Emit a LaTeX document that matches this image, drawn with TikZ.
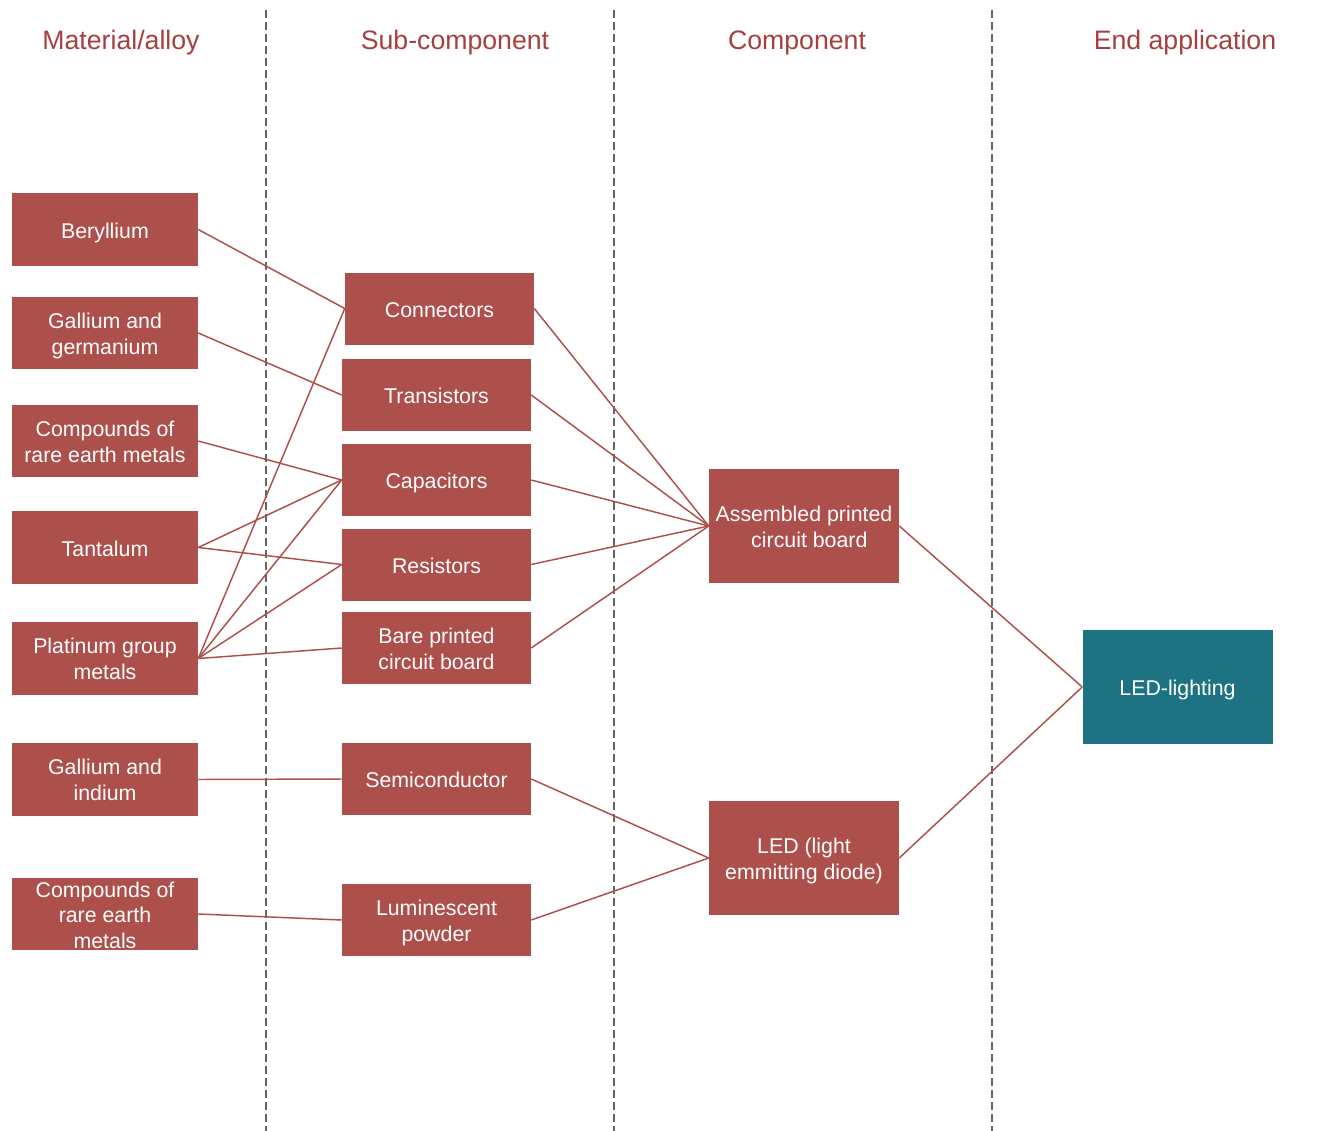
\documentclass[tikz,border=0pt]{standalone}
\usepackage{fontspec}
\setmainfont{Liberation Sans}
\usepackage{tikz}
\usetikzlibrary{positioning}
\definecolor{brick}{HTML}{AD504B}
\definecolor{headred}{HTML}{A5403E}
\definecolor{teal}{HTML}{1E7382}
\newcommand{\tstrut}{\rule{0pt}{16pt}}

\begin{document}
\begin{tikzpicture}[x=0.75pt,y=-0.75pt]
    \tikzstyle{box}=[rectangle, fill=brick, text=white, align=center, inner sep=2pt, font=\fontsize{16}{19.5}\selectfont,
      execute at begin node={\rule{0pt}{17.3pt}}, execute at end node={\rule[-4pt]{0pt}{4pt}}]
    \tikzstyle{tight}=[inner ysep=0pt, text depth=0pt, font=\fontsize{16}{19.2}\selectfont]
    \tikzstyle{mat}=[box, minimum width=139.5pt, minimum height=54.5pt]
    \tikzstyle{sub}=[box, minimum width=141.75pt, minimum height=54pt]
    \tikzstyle{comp}=[box, minimum width=142.5pt, minimum height=85.5pt]
    \tikzstyle{app}=[comp, fill=teal]
    \tikzstyle{heading}=[text=headred, font=\fontsize{20}{24}\selectfont]
    \tikzstyle{link}=[draw=brick, line width=1.1pt]
    \tikzstyle{divider}=[draw=black!60, line width=1.2pt, dash pattern=on 6pt off 3pt]
    \useasboundingbox (0,0) rectangle (1317,1131);
      % column headings
      \node[heading] (hmat) at (121,43) {Material/alloy};
      \node[heading] (hsub) at (455,43) {Sub-component};
      \node[heading] (hcomp) at (797,43) {Component};
      \node[heading] (happ) at (1185,43) {End application};
      \draw[divider] (266,10) -- (266,1131);
      \draw[divider] (614,10) -- (614,1131);
      \draw[divider] (992,10) -- (992,1131);
      % materials
      \node[mat] (ber) at (105,229.5) {Beryllium};
      \node[mat] (gage) at (105,333) {\tstrut Gallium and\\germanium};
      \node[mat] (ree) at (105,441) {\tstrut Compounds of\\rare earth metals};
      \node[mat] (tan) at (105,547.5) {Tantalum};
      \node[mat] (pgm) at (105,658.5) {\tstrut Platinum group\\metals};
      \node[mat] (gain) at (105,779.5) {\tstrut Gallium and\\indium};
      \node[mat, tight] (reeb) at (105,914) {\rule{0pt}{13pt}Compounds of\\rare earth\\metals};
      % sub-components
      \node[sub] (con) at (439.5,308.5) {Connectors};
      \node[sub] (tra) at (436.5,395) {Transistors};
      \node[sub] (cap) at (436.5,480) {Capacitors};
      \node[sub] (res) at (436.5,564.5) {Resistors};
      \node[sub] (bare) at (436.5,648) {\tstrut Bare printed\\circuit board};
      \node[sub] (semi) at (436.5,779) {Semiconductor};
      \node[sub] (lum) at (436.5,920) {\tstrut Luminescent\\powder};
      % components and application
      \node[comp] (apcb) at (804,526) {\tstrut Assembled printed\\\hspace*{8pt}circuit board};
      \node[comp] (led) at (804,858) {\tstrut LED (light\\emmitting diode)};
      \node[app] (light) at (1177.5,687) {LED-lighting};
      \path
        (ber.east) edge [link] (con.west)
        (gage.east) edge [link] (tra.west)
        (ree.east) edge [link] (cap.west)
        (tan.east) edge [link] (cap.west)
        (tan.east) edge [link] (res.west)
        (pgm.east) edge [link] (con.west)
        (pgm.east) edge [link] (cap.west)
        (pgm.east) edge [link] (res.west)
        (pgm.east) edge [link] (bare.west)
        (gain.east) edge [link] (semi.west)
        (reeb.east) edge [link] (lum.west)
        (con.east) edge [link] (apcb.west)
        (tra.east) edge [link] (apcb.west)
        (cap.east) edge [link] (apcb.west)
        (res.east) edge [link] (apcb.west)
        (bare.east) edge [link] (apcb.west)
        (semi.east) edge [link] (led.west)
        (lum.east) edge [link] (led.west)
        (apcb.east) edge [link] (light.west)
        (led.east) edge [link] (light.west);
\end{tikzpicture}
\end{document}
